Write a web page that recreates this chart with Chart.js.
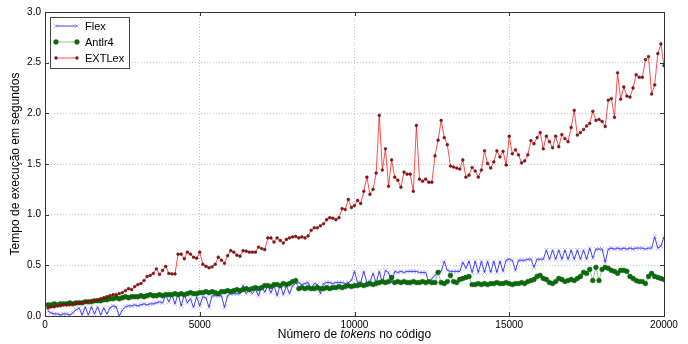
<!DOCTYPE html>
<html>
<head>
<meta charset="utf-8">
<script src="https://cdn.jsdelivr.net/npm/chart.js@4.4.0/dist/chart.umd.min.js"></script>
<style>
  body { margin: 0; background: #fff; }
  #wrap { position: relative; width: 688px; height: 344px; }
  #xlabel {
    position: absolute; left: 45px; width: 619px; top: 327px;
    text-align: center; font: 12px "Liberation Sans", Arial, sans-serif; color: #000;
  }
</style>
</head>
<body>
<div id="wrap">
  <canvas id="timeChart" width="688" height="344"></canvas>
  <div id="xlabel">Número de <i>tokens</i> no código</div>
</div>
<script>
// token counts sampled every 100 tokens, 100..20000
const tokens = Array.from({ length: 200 }, (_, i) => (i + 1) * 100);
const xTicks = [0, 5000, 10000, 15000, 20000];
const yTicks = [0, 0.5, 1.0, 1.5, 2.0, 2.5, 3.0];

const flexTimes = [
  0.05, 0.03, 0.02, 0.02, 0.01, 0.02, 0.02, 0.01, 0.03, 0.06,
  0.08, 0.01, 0.09, 0.01, 0.09, 0.02, 0.09, 0.01, 0.08, 0.02,
  0.08, 0.10, 0.09, 0.00, 0.06, 0.09, 0.10, 0.10, 0.11, 0.10,
  0.11, 0.12, 0.11, 0.12, 0.12, 0.13, 0.14, 0.13, 0.21, 0.14,
  0.21, 0.12, 0.22, 0.10, 0.21, 0.13, 0.17, 0.085, 0.19, 0.10,
  0.19, 0.18, 0.085, 0.20, 0.20, 0.20, 0.20, 0.085, 0.20, 0.22,
  0.22, 0.22, 0.22, 0.30, 0.22, 0.26, 0.22, 0.26, 0.20, 0.29,
  0.235, 0.30, 0.23, 0.30, 0.20, 0.31, 0.21, 0.30, 0.22, 0.30,
  0.32, 0.33, 0.31, 0.32, 0.33, 0.27, 0.32, 0.31, 0.22, 0.32,
  0.33, 0.33, 0.32, 0.33, 0.33, 0.33, 0.32, 0.33, 0.35, 0.44,
  0.33, 0.33, 0.44, 0.33, 0.34, 0.42, 0.33, 0.44, 0.33, 0.45,
  0.43, 0.33, 0.44, 0.43, 0.44, 0.43, 0.44, 0.44, 0.44, 0.44,
  0.43, 0.43, 0.43, 0.33, 0.37, 0.40, 0.43, 0.44, 0.54, 0.45,
  0.44, 0.44, 0.44, 0.44, 0.53, 0.47, 0.54, 0.43, 0.54, 0.43,
  0.54, 0.43, 0.54, 0.43, 0.54, 0.43, 0.54, 0.44, 0.55, 0.56,
  0.55, 0.45, 0.55, 0.55, 0.55, 0.56, 0.56, 0.48, 0.56, 0.56,
  0.56, 0.65, 0.56, 0.65, 0.56, 0.65, 0.56, 0.65, 0.56, 0.65,
  0.56, 0.65, 0.56, 0.65, 0.56, 0.67, 0.57, 0.66, 0.66, 0.66,
  0.53, 0.66, 0.67, 0.66, 0.67, 0.66, 0.67, 0.66, 0.67, 0.66,
  0.67, 0.67, 0.67, 0.66, 0.67, 0.67, 0.78, 0.67, 0.69, 0.78
];

const antlrTimes = [
  0.11, 0.11, 0.12, 0.11, 0.12, 0.12, 0.12, 0.13, 0.12, 0.13,
  0.13, 0.13, 0.14, 0.14, 0.14, 0.15, 0.15, 0.15, 0.16, 0.16,
  0.17, 0.17, 0.18, 0.17, 0.18, 0.19, 0.18, 0.19, 0.19, 0.19,
  0.20, 0.19, 0.20, 0.21, 0.20, 0.20, 0.21, 0.20, 0.21, 0.21,
  0.21, 0.22, 0.21, 0.22, 0.21, 0.22, 0.23, 0.22, 0.22, 0.23,
  0.23, 0.24, 0.23, 0.24, 0.23, 0.22, 0.24, 0.24, 0.25, 0.24,
  0.25, 0.26, 0.25, 0.26, 0.27, 0.26, 0.27, 0.28, 0.27, 0.28,
  0.30, 0.30, 0.29, 0.31, 0.31, 0.30, 0.32, 0.31, 0.32, 0.34,
  0.35, 0.27, 0.28, 0.27, 0.28, 0.27, 0.27, 0.28, 0.27, 0.27,
  0.28, 0.27, 0.28, 0.28, 0.29, 0.28, 0.29, 0.30, 0.29, 0.30,
  0.30, 0.31, 0.30, 0.31, 0.32, 0.31, 0.32, 0.33, 0.34, 0.33,
  0.34, 0.38, 0.33, 0.34, 0.33, 0.34, 0.33, 0.33, 0.34, 0.33,
  0.33, 0.34, 0.33, 0.34, 0.33, 0.33, 0.43, 0.33, 0.32, 0.34,
  0.40, 0.34, 0.33, 0.36, 0.37, 0.38, 0.39, 0.31, 0.31, 0.32,
  0.31, 0.32, 0.31, 0.32, 0.32, 0.33, 0.32, 0.32, 0.33, 0.32,
  0.31, 0.32, 0.32, 0.33, 0.32, 0.34, 0.35, 0.36, 0.39, 0.40,
  0.37, 0.36, 0.33, 0.32, 0.34, 0.37, 0.36, 0.34, 0.35, 0.36,
  0.35, 0.37, 0.39, 0.43, 0.42, 0.46, 0.35, 0.48, 0.35, 0.46,
  0.48, 0.47, 0.45, 0.44, 0.42, 0.45, 0.45, 0.44, 0.39, 0.37,
  0.35, 0.34, 0.34, 0.32, 0.39, 0.42, 0.39, 0.38, 0.37, 0.36
];

const extlexTimes = [
  0.08, 0.09, 0.09, 0.10, 0.10, 0.11, 0.11, 0.11, 0.12, 0.12,
  0.13, 0.13, 0.14, 0.14, 0.15, 0.15, 0.16, 0.17, 0.18, 0.19,
  0.20, 0.21, 0.21, 0.22, 0.23, 0.25, 0.27, 0.26, 0.29, 0.31,
  0.32, 0.35, 0.39, 0.40, 0.42, 0.465, 0.41, 0.45, 0.49, 0.42,
  0.415, 0.415, 0.61, 0.61, 0.565, 0.63, 0.61, 0.58, 0.57, 0.63,
  0.51, 0.49, 0.475, 0.485, 0.51, 0.58, 0.55, 0.52, 0.595, 0.645,
  0.63, 0.60, 0.59, 0.645, 0.64, 0.63, 0.63, 0.63, 0.68, 0.665,
  0.655, 0.77, 0.77, 0.73, 0.77, 0.745, 0.72, 0.755, 0.77, 0.78,
  0.785, 0.77, 0.78, 0.77, 0.79, 0.845, 0.87, 0.87, 0.89, 0.91,
  0.95, 0.97, 0.965, 0.95, 0.97, 1.06, 1.05, 1.15, 1.07, 1.09,
  1.14, 1.11, 1.23, 1.37, 1.20, 1.25, 1.41, 1.98, 1.44, 1.65,
  1.28, 1.54, 1.37, 1.34, 1.27, 1.42, 1.40, 1.40, 1.23, 1.88,
  1.35, 1.33, 1.35, 1.32, 1.32, 1.58, 1.735, 1.93, 1.76, 1.69,
  1.48, 1.47, 1.46, 1.45, 1.54, 1.37, 1.39, 1.465, 1.43, 1.37,
  1.44, 1.63, 1.505, 1.46, 1.52, 1.63, 1.57, 1.625, 1.49, 1.775,
  1.60, 1.64, 1.59, 1.51, 1.53, 1.59, 1.73, 1.70, 1.76, 1.81,
  1.65, 1.775, 1.72, 1.66, 1.775, 1.67, 1.79, 1.75, 1.72, 1.86,
  2.03, 1.785, 1.81, 1.84, 1.875, 1.90, 2.02, 1.93, 1.94, 1.92,
  1.87, 2.13, 2.145, 1.96, 2.40, 2.14, 2.26, 2.17, 2.16, 2.25,
  2.38, 2.355, 2.355, 2.53, 2.56, 2.19, 2.28, 2.59, 2.685, 2.47
];

const FONT = '"Liberation Sans", Arial, sans-serif';

function toPoints(values) {
  return values.map((v, i) => ({ x: tokens[i], y: v }));
}

function drawMarker(ctx, ds, x, y) {
  ctx.save();
  ctx.lineWidth = ds.pointBorderWidth;
  ctx.strokeStyle = ds.pointBorderColor;
  ctx.fillStyle = ds.pointBackgroundColor;
  if (ds.pointStyle === 'crossRot') {
    const r = ds.pointRadius * 0.75;
    ctx.beginPath();
    ctx.moveTo(x - r, y - r); ctx.lineTo(x + r, y + r);
    ctx.moveTo(x - r, y + r); ctx.lineTo(x + r, y - r);
    ctx.stroke();
  } else {
    ctx.beginPath();
    ctx.arc(x, y, ds.pointRadius, 0, Math.PI * 2);
    ctx.fill();
    ctx.stroke();
  }
  ctx.restore();
}

// frame, inward ticks and the legend box, like the classic matplotlib look
const framePlugin = {
  id: 'frame',
  afterDraw(chart) {
    const { ctx, chartArea: a, scales } = chart;
    ctx.save();
    ctx.strokeStyle = '#333';
    ctx.lineWidth = 1;
    ctx.beginPath();
    xTicks.forEach(t => {
      const px = Math.round(scales.x.getPixelForValue(t)) + 0.5;
      ctx.moveTo(px, a.bottom); ctx.lineTo(px, a.bottom - 4);
      ctx.moveTo(px, a.top); ctx.lineTo(px, a.top + 4);
    });
    yTicks.forEach(t => {
      const py = Math.round(scales.y.getPixelForValue(t)) + 0.5;
      ctx.moveTo(a.left, py); ctx.lineTo(a.left + 4, py);
      ctx.moveTo(a.right, py); ctx.lineTo(a.right - 4, py);
    });
    ctx.stroke();
    ctx.strokeRect(Math.round(a.left) + 0.5, Math.round(a.top) + 0.5,
      Math.round(a.right - a.left), Math.round(a.bottom - a.top));

    // legend
    const lx = Math.round(a.left) + 5, ly = Math.round(a.top) + 5;
    ctx.fillStyle = '#fff';
    ctx.fillRect(lx, ly, 79, 51);
    ctx.strokeStyle = '#444';
    ctx.strokeRect(lx + 0.5, ly + 0.5, 79, 51);
    ctx.font = '11px ' + FONT;
    ctx.textBaseline = 'middle';
    chart.data.datasets.forEach((ds, i) => {
      const y = ly + 9 + i * 16;
      ctx.strokeStyle = ds.borderColor;
      ctx.lineWidth = ds.borderWidth;
      ctx.beginPath();
      ctx.moveTo(lx + 6, y); ctx.lineTo(lx + 27, y);
      ctx.stroke();
      drawMarker(ctx, ds, lx + 6, y);
      drawMarker(ctx, ds, lx + 27, y);
      ctx.fillStyle = '#000';
      ctx.fillText(ds.label, lx + 35, y + 1);
    });
    ctx.restore();
  }
};

new Chart(document.getElementById('timeChart'), {
  type: 'line',
  data: {
    datasets: [
      {
        label: 'Flex',
        data: toPoints(flexTimes),
        borderColor: 'rgba(0, 0, 255, 0.75)',
        borderWidth: 1,
        pointStyle: 'crossRot',
        pointRadius: 3,
        pointBorderWidth: 1,
        pointBorderColor: 'rgba(60, 60, 255, 0.35)',
        pointBackgroundColor: 'rgba(60, 60, 255, 0.35)',
        order: 3
      },
      {
        label: 'Antlr4',
        data: toPoints(antlrTimes),
        borderColor: 'rgba(0, 128, 0, 0.45)',
        borderWidth: 1,
        pointStyle: 'circle',
        pointRadius: 2.4,
        pointBorderWidth: 0.5,
        pointBorderColor: '#0a5a0a',
        pointBackgroundColor: '#0b6b0b',
        order: 2
      },
      {
        label: 'EXTLex',
        data: toPoints(extlexTimes),
        borderColor: 'rgba(255, 0, 0, 0.7)',
        borderWidth: 1,
        pointStyle: 'circle',
        pointRadius: 1.4,
        pointBorderWidth: 0.5,
        pointBorderColor: '#6a1010',
        pointBackgroundColor: '#8a1414',
        order: 1
      }
    ]
  },
  options: {
    responsive: false,
    animation: false,
    devicePixelRatio: 1,
    layout: { padding: { top: 12, right: 24, left: 0, bottom: 0 } },
    plugins: {
      legend: { display: false },
      tooltip: { enabled: false }
    },
    scales: {
      x: {
        type: 'linear',
        min: 0,
        max: 20000,
        afterBuildTicks: (scale) => { scale.ticks = xTicks.map(v => ({ value: v })); },
        afterFit: (scale) => { scale.height = 28; },
        ticks: {
          color: '#000',
          padding: 3,
          maxRotation: 0,
          font: { family: FONT, size: 10 },
          callback: (val) => String(val)
        },
        grid: { color: '#b4b4b4', lineWidth: 0.8, drawTicks: false },
        border: { display: false, dash: [1, 2] }
      },
      y: {
        min: 0,
        max: 3,
        afterBuildTicks: (scale) => { scale.ticks = yTicks.map(v => ({ value: v })); },
        afterFit: (scale) => { scale.width = 45; },
        ticks: {
          color: '#000',
          padding: 4,
          font: { family: FONT, size: 10 },
          callback: (val) => val.toFixed(1)
        },
        title: {
          display: true,
          text: 'Tempo de execução em segundos',
          color: '#000',
          font: { family: FONT, size: 12 },
          padding: { top: 8, bottom: 0 }
        },
        grid: { color: '#b4b4b4', lineWidth: 0.8, drawTicks: false },
        border: { display: false, dash: [1, 2] }
      }
    }
  },
  plugins: [framePlugin]
});
</script>
</body>
</html>
